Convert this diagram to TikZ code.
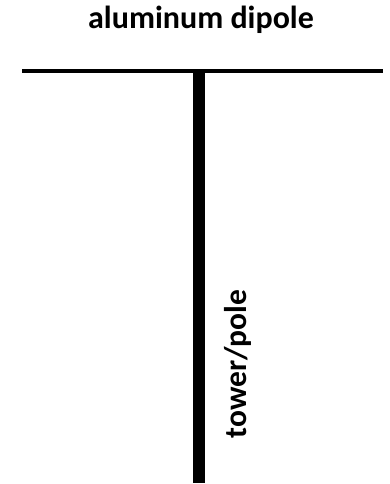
\documentclass[tikz,border=0pt]{standalone}
\usepackage{fontspec}
\setmainfont{Carlito}
\begin{document}
\begin{tikzpicture}[x=1pt,y=1pt,
  lbl/.style={font=\bfseries\fontsize{32}{38}\selectfont, inner sep=0pt, anchor=base},
  dipole/.style={line width=4pt},
  pole/.style={line width=12pt}]
\useasboundingbox (0,0) rectangle (390,484);
\node[lbl] (title) at (201,455.7) {aluminum dipole};
\coordinate (dl) at (22,412.7);
\coordinate (dr) at (382.7,412.7);
\coordinate (ptop) at (198.5,414.7);
\coordinate (pbot) at (198.5,1);
\draw[dipole] (dl) -- (dr);
\draw[pole] (ptop) -- (pbot);
\node[lbl, font=\bfseries\fontsize{31.5}{38}\selectfont, rotate=90] (polelabel) at (246,120) {tower/pole};
\end{tikzpicture}
\end{document}
